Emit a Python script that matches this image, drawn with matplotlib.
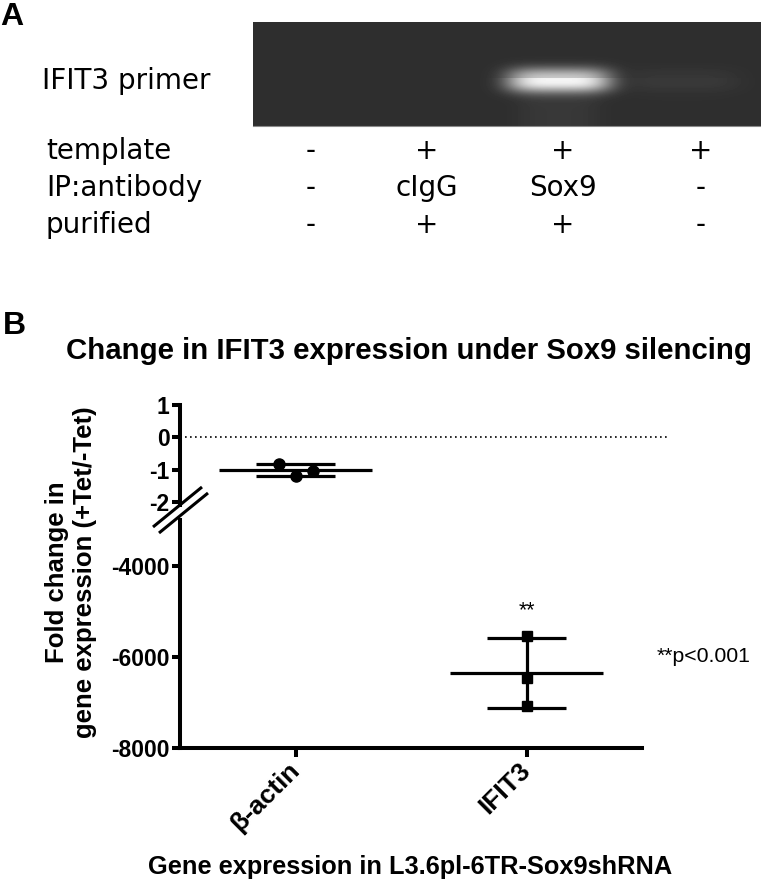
import numpy as np
import matplotlib
matplotlib.use('Agg')
import matplotlib.pyplot as plt

plt.rcParams['font.family'] = ['Liberation Sans', 'DejaVu Sans']

W, H = 761, 882

# panel A: gel lanes
lane_template = ['-', '+', '+', '+']
lane_antibody = ['-', 'cIgG', 'Sox9', '-']
lane_purified = ['-', '+', '+', '-']
band_level = [0.0, 0.0, 0.78, 0.045]

# panel B: fold change (+Tet/-Tet)
genes = ['β-actin', 'IFIT3']
actin_fold = [-0.82, -1.18, -1.03]
ifit3_fold = [-5540, -6460, -7075]
actin_jitter = [-0.073, 0.0, 0.075]


def fx(px):
    return px / W


def fy(py):
    return 1 - py / H


fig = plt.figure(figsize=(W / 100, H / 100), dpi=100)

# ---- panel B axes ----
lw_ax = 2.9
tick_fs = 16.5
axU = fig.add_axes([fx(180), fy(505), fx(642) - fx(180), fy(405) - fy(505)])
axL = fig.add_axes([fx(180), fy(748), fx(642) - fx(180), fy(520) - fy(748)])

for ax in (axU, axL):
    ax.set_xlim(-0.5, 1.5)
    ax.patch.set_visible(False)
    for s in ('top', 'right'):
        ax.spines[s].set_visible(False)
    ax.spines['left'].set_linewidth(lw_ax)
    ax.tick_params(axis='y', width=lw_ax, length=6, pad=1.5)

axU.spines['bottom'].set_visible(False)
axU.set_xticks([])
axU.set_ylim(-2.09, 1)
axU.set_yticks([1, 0, -1, -2])
axU.set_yticklabels(['1', '0', '-1', '-2'], fontweight='bold', fontsize=tick_fs)
axU.axhline(0, xmin=0, xmax=1.06, color='black', ls=(0, (1, 2)), lw=1.2, clip_on=False)

axL.spines['bottom'].set_linewidth(lw_ax)
axL.set_ylim(-8000, -3000)
axL.set_yticks([-8000, -6000, -4000])
axL.set_yticklabels(['-8000', '-6000', '-4000'], fontweight='bold', fontsize=tick_fs)
axL.set_xticks([0, 1])
axL.set_xticklabels(genes, rotation=45, ha='right', va='center',
                    rotation_mode='anchor', fontweight='bold', fontsize=19)
axL.tick_params(axis='x', width=lw_ax, length=6.5, pad=7)

mean_w, cap_w = 0.33, 0.17
# beta-actin (upper segment)
a = np.array(actin_fold)
am, asd = a.mean(), a.std(ddof=1)
axU.plot([-mean_w, mean_w], [am, am], color='black', lw=2.3, solid_capstyle='butt')
for v in (am + asd, am - asd):
    axU.plot([-cap_w, cap_w], [v, v], color='black', lw=2.3, solid_capstyle='butt')
axU.plot(np.array(actin_jitter), a, 'o', color='black', ms=8, clip_on=False)

# IFIT3 (lower segment)
b = np.array(ifit3_fold)
bm, bsd = b.mean(), b.std(ddof=1)
axL.plot([1 - mean_w, 1 + mean_w], [bm, bm], color='black', lw=2.3, solid_capstyle='butt')
for v in (bm + bsd, bm - bsd):
    axL.plot([1 - cap_w, 1 + cap_w], [v, v], color='black', lw=2.3, solid_capstyle='butt')
axL.plot([1, 1], [bm - bsd, bm + bsd], color='black', lw=2.3)
axL.plot(np.ones(len(b)), b, 's', color='black', ms=7.5)
axL.text(1, -4980, '**', ha='center', va='center', fontsize=15.5)

fig.text(fx(409), fy(351), 'Change in IFIT3 expression under Sox9 silencing',
         ha='center', va='center', fontsize=21.2, fontweight='bold')
fig.text(fx(71), fy(572), 'Fold change in\ngene expression (+Tet/-Tet)', rotation=90,
         ha='center', va='center', fontsize=18.5, fontweight='bold', linespacing=1.25)
fig.text(fx(410), fy(867), 'Gene expression in L3.6pl-6TR-Sox9shRNA',
         ha='center', va='center', fontsize=18.3, fontweight='bold')
fig.text(fx(657), fy(657), '**p<0.001', ha='left', va='center', fontsize=15.3)
fig.text(fx(3), fy(326), 'B', ha='left', va='center', fontsize=23, fontweight='bold')
fig.text(fx(0), fy(17), 'A', ha='left', va='center', fontsize=23, fontweight='bold')

# ---- overlay in pixel coordinates: gel, labels, axis break ----
ov = fig.add_axes([0, 0, 1, 1])
ov.axis('off')

gx0, gx1, gy0, gy1 = 253, 761, 22, 126
lane_x = [311, 427, 563, 701]
band_cx = [311, 427, 559, 682]
band_hw = [52, 52, 52, 58]
xx = np.arange(gx0, gx1) + 0.5
yy = np.arange(gy0, gy1) + 0.5
gel = np.full((len(yy), len(xx)), 0.18)
for cx, hw, lvl in zip(band_cx, band_hw, band_level):
    px = np.exp(-np.abs((xx - cx) / hw) ** 4)
    py = np.exp(-np.abs((yy - 80) / 12.5) ** 2.5) * (0.78 + 0.22 * (yy > 78))
    gel += lvl * np.outer(py, px)
    smear = np.exp(-np.abs((xx - cx) / (hw * 0.8)) ** 4)
    gel += lvl * 0.05 * np.outer(np.clip((yy - 88) / 10, 0, 1), smear)
gel = np.clip(gel, 0, 1)
ov.imshow(gel, cmap='gray', vmin=0, vmax=1, extent=(gx0, gx1, gy1, gy0),
          interpolation='bilinear', aspect='auto')
ov.plot([gx0, gx1], [gy1, gy1], color='#8a8a8a', lw=0.8)

txt = dict(family=['DejaVu Sans'], fontsize=20, va='center')
ov.text(42, 81, 'IFIT3 primer', ha='left', **txt)
rows = [('template', lane_template, 151), ('IP:antibody', lane_antibody, 188),
        ('purified', lane_purified, 225)]
for name, vals, y in rows:
    ov.text(46, y, name, ha='left', **txt)
    for x, v in zip(lane_x, vals):
        ov.text(x, y, v, ha='center', **txt)

# axis break marks
for d in (0, 6):
    ov.plot([153 + d, 202 + d], [527 + d, 487 + d], color='black', lw=2.2, solid_capstyle='butt')

ov.set_xlim(0, W)
ov.set_ylim(H, 0)

fig.savefig('out.png', dpi=100)
